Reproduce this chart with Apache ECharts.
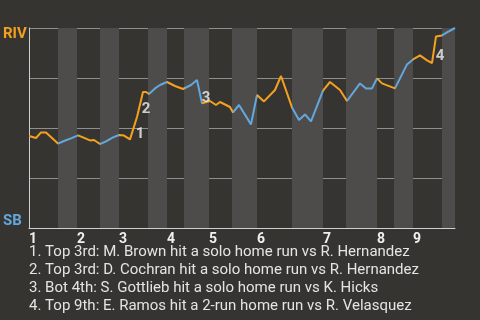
<!DOCTYPE html>
<html><head><meta charset="utf-8">
<script src="https://cdn.jsdelivr.net/npm/echarts@6/dist/echarts.min.js"></script>
<style>html,body{margin:0;padding:0;background:#363431;}#c{width:480px;height:320px;}</style>
</head><body><div id="c"></div>
<script>
// RIV win probability (%) along game progress (x = progress units)
const wpPoints = [
  [0,46],[7,45],[12,47.8],[17,47.8],[29,42.2],
  [35,43.5],[42,44.8],[49,46.3],
  [54,45.3],[61,43.8],[65,44],[71,42],
  [77,43.3],[84,45.3],[90,46.5],
  [95,46.2],[101,44.3],[102,43.5],[108,55.5],[114,68],[117,68],[120,67],
  [126,69.8],[131,71.5],[138,73],
  [146,71],[154,69.5],[156,69.2],
  [162,71.5],[168,74],[173,62.3],
  [175,62.5],[181,63.5],[187,61.5],[191,63],[201,60.5],[204,57.8],
  [210,61.5],[222,51.8],[228,66.5],
  [235,63.3],[246,69],[252,76],[263,60.3],
  [270,54],[276,56.8],[282,53.3],[294,68.7],
  [301,73],[311,69],[318,63.5],
  [331,72.3],[337,69.8],[343,69.8],[348,74.8],
  [353,72.3],[366,69.8],
  [378,81.8],[384,84.3],
  [391,86.3],[398,83.8],[403,82.5],[407,95.8],[413,96.3],
  [418,97.8],[426,100]
];
// half-inning boundaries (bands): top halves dark, bottom halves light
const halfInningBounds = [0,29,48,71,90,119,138,155,180,203,228,263,294,317,348,365,384,413,426];
// line color switch points (top = RIV batting = orange, bottom = SB batting = blue)
const lineSwitch = [0,29,49,71,90,120,138,156,173,204,228,263,294,318,348,366,384,413,426];
const inningStarts = [0,48,90,138,180,228,294,348,384];
const inningLabels = ['1','2','3','4','5','6','7','8','9'];
const hrMarks = [[111,47,'1'],[117,59.5,'2'],[177,65,'3'],[411,86,'4']];
const notes = [
  '1. Top 3rd: M. Brown hit a solo home run vs R. Hernandez',
  '2. Top 3rd: D. Cochran hit a solo home run vs R. Hernandez',
  '3. Bot 4th: S. Gottlieb hit a solo home run vs K. Hicks',
  '4. Top 9th: E. Ramos hit a 2-run home run vs R. Velasquez'
];
const teamTop = 'RIV', teamBottom = 'SB';
const ORANGE = '#f5a01f', BLUE = '#62a8df';

const bands = [];
for (let i = 1; i + 1 < halfInningBounds.length; i += 2) {
  bands.push([{xAxis: halfInningBounds[i]}, {xAxis: halfInningBounds[i+1]}]);
}
const pieces = [];
for (let i = 0; i + 1 < lineSwitch.length; i++) {
  pieces.push({gte: lineSwitch[i], lt: (i + 2 === lineSwitch.length ? 1000 : lineSwitch[i+1]), color: i % 2 === 0 ? ORANGE : BLUE});
}
const graphics = [
  {type:'text', left:3, top:27, style:{text:teamTop, fill:ORANGE, font:'bold 15px Roboto'}},
  {type:'text', left:3, top:214, style:{text:teamBottom, fill:BLUE, font:'bold 15px Roboto'}}
];
notes.forEach((t, i) => graphics.push({type:'text', left:29, top:245 + i*18, style:{text:t, fill:'#e4e4e4', font:'15px Roboto'}}));

const chart = echarts.init(document.getElementById('c'));
chart.setOption({
  backgroundColor:'#363431',
  animation:false,
  grid:{left:29, top:28, width:426, height:200, containLabel:false},
  xAxis:{type:'value', min:0, max:426,
    axisLine:{show:true, lineStyle:{color:'#cfcfcf', width:1}},
    axisTick:{show:false}, splitLine:{show:false},
    axisLabel:{customValues:inningStarts, formatter:(v)=>inningLabels[inningStarts.indexOf(v)] || '', align:'left', margin:4,
      color:'#f0f0f0', fontWeight:'bold', fontSize:14, fontFamily:'Roboto'}},
  yAxis:{type:'value', min:0, max:100, interval:25,
    axisLine:{show:true, lineStyle:{color:'#cfcfcf', width:1}},
    axisTick:{show:false}, axisLabel:{show:false},
    splitLine:{show:true, lineStyle:{color:'#8e8e8e', width:1}}},
  visualMap:{show:false, type:'piecewise', dimension:0, seriesIndex:0, pieces:pieces},
  series:[
    {type:'line', data:wpPoints, showSymbol:false, lineStyle:{width:2}, z:3,
      markArea:{silent:true, itemStyle:{color:'#4d4c4a'}, data:bands}},
    {type:'scatter', data:hrMarks.map(d=>[d[0],d[1]]), symbolSize:0, z:4,
      label:{show:true, position:'inside', formatter:(p)=>hrMarks[p.dataIndex][2], color:'#f2f2f2', fontWeight:'bold', fontSize:15, fontFamily:'Roboto'}}
  ],
  graphic:graphics
});
</script></body></html>
